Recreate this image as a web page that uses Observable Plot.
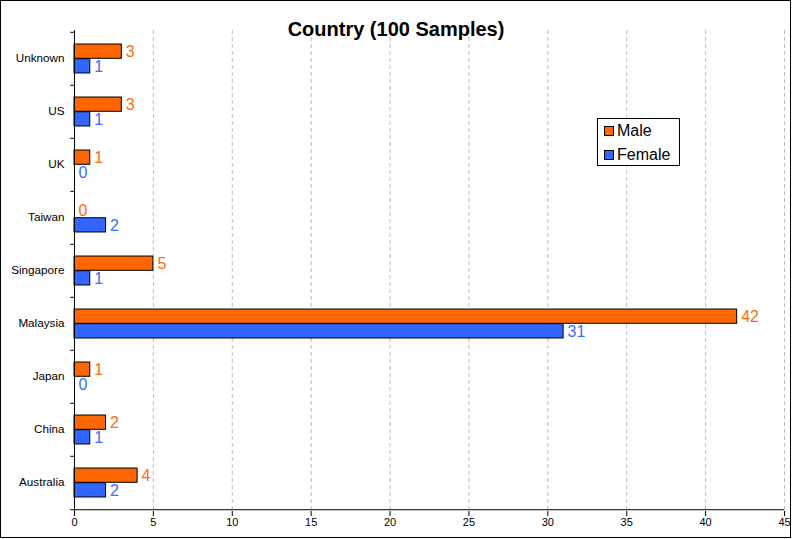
<!DOCTYPE html>
<html>
<head>
<meta charset="utf-8">
<script src="https://cdn.jsdelivr.net/npm/d3@7"></script>
<script src="https://cdn.jsdelivr.net/npm/@observablehq/plot@0.6"></script>
<style>
  body { margin: 0; background: #fff; font-family: "Liberation Sans", Arial, sans-serif; }
  #wrap { position: relative; width: 792px; height: 539px; overflow: hidden; }
  #border { position: absolute; left: 0; top: 0; width: 789px; height: 536px; border: 1px solid #000; pointer-events: none; }
  #title { position: absolute; left: 0; width: 792px; top: 18px; text-align: center; font: bold 20px "Liberation Sans", Arial, sans-serif; color: #000; }
  #legend { position: absolute; left: 597px; top: 118px; width: 81px; height: 46px; border: 1px solid #000; background: #fff; font: 16px "Liberation Sans", Arial, sans-serif; }
  .li { position: absolute; left: 6px; height: 20px; line-height: 20px; white-space: nowrap; }
  .sw { display: inline-block; width: 8px; height: 8px; border: 1px solid #000; margin-right: 3px; vertical-align: 0px; }
</style>
</head>
<body>
<div id="wrap">
  <div id="chart"></div>
  <div id="title">Country (100 Samples)</div>
  <div id="legend"></div>
  <div id="border"></div>
</div>
<script>
const countries = ["Unknown", "US", "UK", "Taiwan", "Singapore", "Malaysia", "Japan", "China", "Australia"];
const male   = [3, 3, 1, 0, 5, 42, 1, 2, 4];
const female = [1, 1, 0, 2, 1, 31, 0, 1, 2];
const xTicks = [0, 5, 10, 15, 20, 25, 30, 35, 40, 45];
const seriesNames = ["Male", "Female"];
const seriesColors = ["#ff6600", "#3366ff"];
const labelColors = ["#ff6a10", "#3a6cff"];

const W = 792, H = 539;
const mT = 30, mB = 28, mL = 74, mR = 8;
const bw = (H - mT - mB) / countries.length;

const rows = countries.map((c, i) => ({country: c, male: male[i], female: female[i]}));

const chart = Plot.plot({
  width: W, height: H,
  marginTop: mT, marginBottom: mB, marginLeft: mL, marginRight: mR,
  style: {fontFamily: "'Liberation Sans', Arial, sans-serif", background: "transparent", overflow: "visible"},
  x: {domain: [0, 45]},
  y: {domain: countries, padding: 0, label: null},
  marks: [
    Plot.ruleX(xTicks.filter(t => t > 0), {stroke: "#bdbdbd", strokeDasharray: "4,3", strokeWidth: 1}),
    Plot.barX(rows, {y: "country", x: "male", fill: seriesColors[0], stroke: "#000", strokeWidth: 1, insetTop: bw * 0.225, insetBottom: bw * 0.5}),
    Plot.barX(rows, {y: "country", x: "female", fill: seriesColors[1], stroke: "#000", strokeWidth: 1, insetTop: bw * 0.5, insetBottom: bw * 0.225}),
    Plot.text(rows, {y: "country", x: "male", text: d => String(d.male), dx: 4, dy: -bw * 0.14, textAnchor: "start", fill: labelColors[0], fontSize: 16}),
    Plot.text(rows, {y: "country", x: "female", text: d => String(d.female), dx: 4, dy: bw * 0.15, textAnchor: "start", fill: labelColors[1], fontSize: 16}),
    Plot.axisY({tickSize: 0, tickPadding: 10, fontSize: 11.7, fill: "#000", dy: -1, label: null}),
    Plot.link(countries, {y1: d => d, y2: d => d, x1: () => -0.27, x2: () => 0, dy: -bw / 2, stroke: "#000"}),
    Plot.link([countries[countries.length - 1]], {y1: d => d, y2: d => d, x1: () => -0.27, x2: () => 0, dy: bw / 2, stroke: "#000"}),
    Plot.ruleX([0], {stroke: "#000", strokeWidth: 1}),
    Plot.ruleY([0], {y: () => countries[countries.length - 1], dy: bw / 2, x1: 0, x2: 45, stroke: "#000"}),
    Plot.axisX({ticks: xTicks, tickSize: 5, tickPadding: 2, fontSize: 11, fill: "#000", stroke: "#000", tickFormat: d => String(d), label: null})
  ]
});
document.getElementById("chart").appendChild(chart);

const legend = document.getElementById("legend");
seriesNames.forEach((n, i) => {
  const el = document.createElement("div");
  el.className = "li";
  el.style.top = (2 + i * 24) + "px";
  el.innerHTML = `<span class="sw" style="background:${seriesColors[i]}"></span>${n}`;
  legend.appendChild(el);
});
</script>
</body>
</html>
